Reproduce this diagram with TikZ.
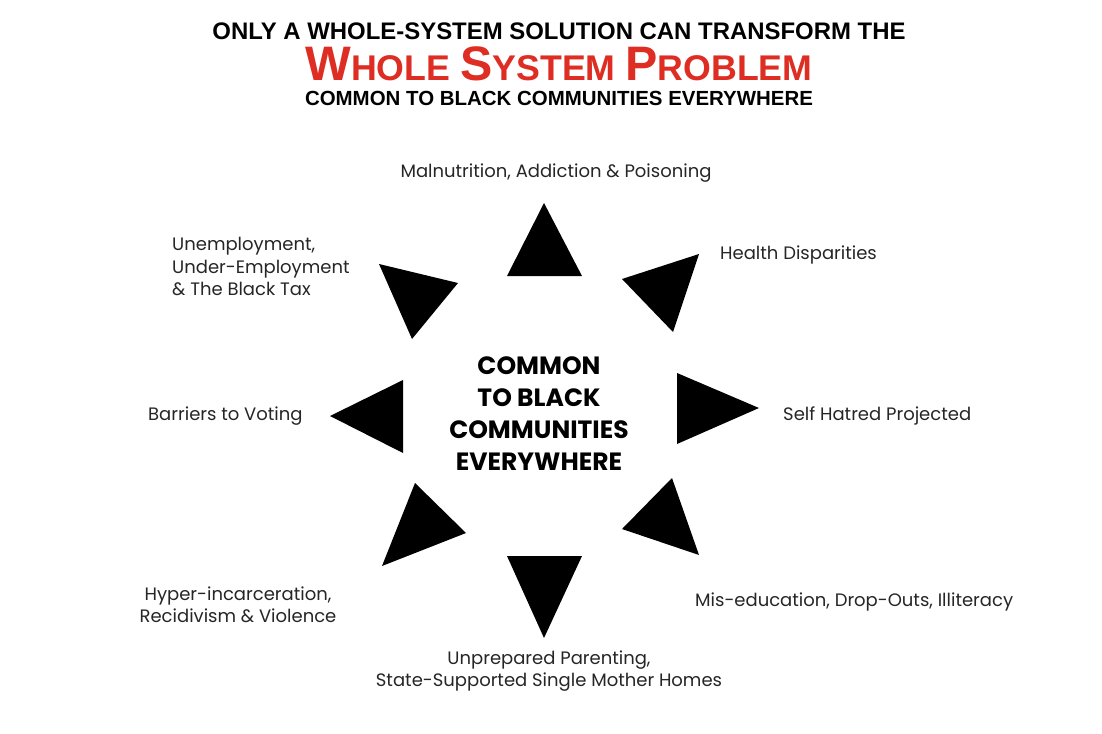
\documentclass[tikz,border=0pt]{standalone}
\usepackage{fontspec}
\setmainfont{Poppins}
\newfontfamily\titlefont{Liberation Sans}
\definecolor{titlered}{RGB}{222,45,35}
\begin{document}
\begin{tikzpicture}[x=1pt,y=-1pt,
  tri/.style={fill=black},
  lbl/.style={font=\fontsize{18}{22.5}\selectfont, text=black!85, inner sep=0pt, align=center},
  ttl/.style={inner sep=0pt, font=\titlefont\bfseries}]
\path[use as bounding box, fill=white] (0,0) rectangle (1102,733);

% title
\node[ttl] (t1) at (559,31) {\resizebox{693pt}{!}{\fontsize{21}{21}\selectfont ONLY A WHOLE-SYSTEM SOLUTION CAN TRANSFORM THE}};
\node[ttl, text=titlered] (t2) at (559,64) {\resizebox{507pt}{!}{\fontsize{42}{42}\selectfont W\fontsize{31}{31}\selectfont HOLE \fontsize{42}{42}\selectfont S\fontsize{31}{31}\selectfont YSTEM \fontsize{42}{42}\selectfont P\fontsize{31}{31}\selectfont ROBLEM}};
\node[ttl] (t3) at (559,98) {\resizebox{508pt}{!}{\fontsize{21}{21}\selectfont COMMON TO BLACK COMMUNITIES EVERYWHERE}};

% triangles
\fill[tri] (544,203) -- (507,276) -- (582,276) -- cycle;
\fill[tri] (699,254) -- (622,279) -- (673,332) -- cycle;
\fill[tri] (379,264) -- (458,283) -- (412,339) -- cycle;
\fill[tri] (330,416) -- (403,380) -- (403,453) -- cycle;
\fill[tri] (759,408) -- (677,373) -- (677,444) -- cycle;
\fill[tri] (415,483) -- (466,533) -- (382,566) -- cycle;
\fill[tri] (672,478) -- (622,529) -- (699,555) -- cycle;
\fill[tri] (507,556) -- (582,556) -- (544,638) -- cycle;

% centre
\node[font=\fontsize{25}{32}\selectfont\bfseries, align=center, inner sep=0pt] (c) at (539,414)
  {COMMON\\TO BLACK\\COMMUNITIES\\EVERYWHERE};

% labels
\node[lbl] (l1) at (556,173) {Malnutrition, Addiction \& Poisoning};
\node[lbl, anchor=west] (l2) at (720,255) {Health Disparities};
\node[lbl, anchor=west] (l3) at (783,416) {Self Hatred Projected};
\node[lbl, anchor=west] (l4) at (695,602) {Mis-education, Drop-Outs, Illiteracy};
\node[lbl] (l5) at (549,671) {Unprepared Parenting,\\State-Supported Single Mother Homes};
\node[lbl] (l6) at (238,605) {Hyper-incarceration,\\Recidivism \& Violence};
\node[lbl, anchor=west] (l7) at (148,416) {Barriers to Voting};
\node[lbl, anchor=north west, align=left] (l8) at (172,237) {Unemployment,\\Under-Employment\\\& The Black Tax};
\end{tikzpicture}
\end{document}
